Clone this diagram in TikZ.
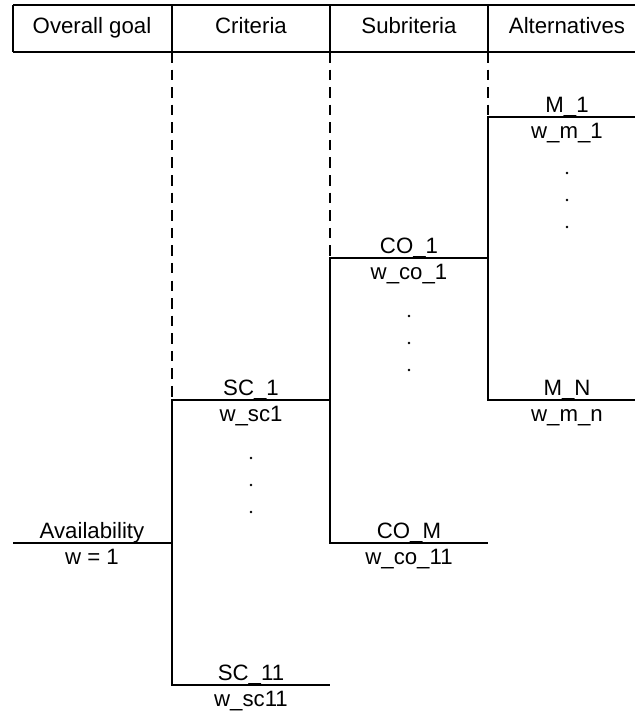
\documentclass[tikz,border=0pt]{standalone}
\usepackage{fontspec}
\setmainfont{Liberation Sans}
\usetikzlibrary{positioning}
\tikzset{
  lbl/.style={font=\fontsize{15.8}{18}\selectfont, inner sep=0pt, anchor=base},
  hdr/.style={line width=1.1pt},
  tree/.style={line width=1pt},
  guide/.style={line width=1pt, dash pattern=on 7.5pt off 5pt},
}

\begin{document}
\begin{tikzpicture}[x=0.025cm, y=-0.025cm]
  \useasboundingbox (0,0) rectangle (635,712);
  % header row
  \draw[hdr] (13,5) -- (635,5) (13,52) -- (635,52);
  \foreach \x in {13,172,330,488} \draw[hdr, line width=1.4pt] (\x,5) -- (\x,52);
  \foreach \x/\lab/\n in {92/Overall goal/hGoal, 251/Criteria/hCrit, 409/Subriteria/hSub, 567/Alternatives/hAlt}
    \node[lbl] (\n) at (\x,33) {\lab};
  \foreach \x/\n in {172/d1, 330/d2, 488/d3} \coordinate (\n) at (\x,52);

  % hierarchy
  \coordinate (g0) at (13,543);    \coordinate (g1) at (172,543);
  \coordinate (sc1a) at (172,400); \coordinate (sc1b) at (330,400);
  \coordinate (sc11a) at (172,685);\coordinate (sc11b) at (330,685);
  \coordinate (co1a) at (330,258); \coordinate (co1b) at (488,258);
  \coordinate (coMa) at (330,543); \coordinate (coMb) at (488,543);
  \coordinate (m1a) at (488,117);  \coordinate (m1b) at (635,117);
  \coordinate (mNa) at (488,400);  \coordinate (mNb) at (635,400);

  \draw[guide] (d1) -- (sc1a);
  \draw[guide] (d2) -- (co1a);
  \draw[guide] (d3) -- (m1a);

  \draw[tree] (g0) -- (g1);
  \draw[tree] (sc1b) -- (sc1a) -- (sc11a) -- (sc11b);
  \draw[tree] (co1b) -- (co1a) -- (coMa) -- (coMb);
  \draw[tree] (m1b) -- (m1a) -- (mNa) -- (mNb);

  \foreach \x/\y/\top/\bot/\n in {92/543/Availability/w = 1/goal,
      251/400/SC\_1/w\_sc1/sc1, 251/685/SC\_11/w\_sc11/sc11,
      409/258/CO\_1/w\_co\_1/co1, 409/543/CO\_M/w\_co\_11/coM,
      567/117/M\_1/w\_m\_1/m1, 567/400/M\_N/w\_m\_n/mN}{
    \node[lbl] (\n-t) at (\x,\y-5) {\top};
    \node[lbl] (\n-b) at (\x,\y+21) {\bot};
  }

  % omitted entries
  \foreach \x/\y in {567/173, 409/316, 251/458}
    \foreach \k in {0,1,2}
      \fill (\x,\y+27*\k) circle[radius=0.9pt];
\end{tikzpicture}
\end{document}
